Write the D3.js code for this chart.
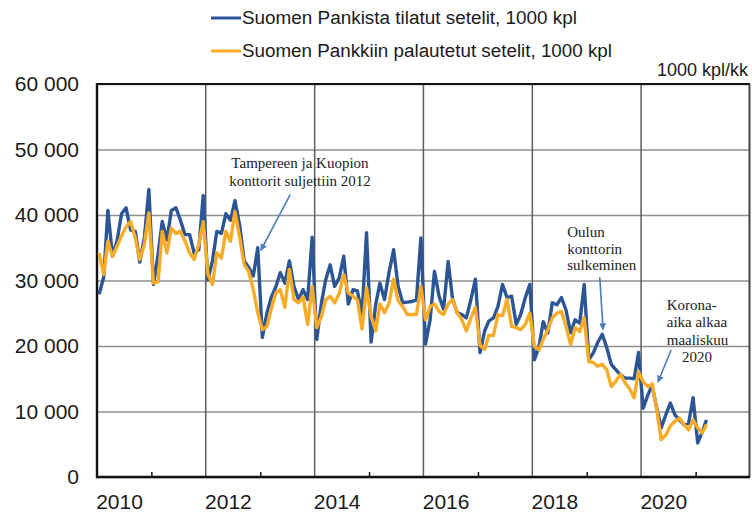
<!DOCTYPE html>
<html>
<head>
<meta charset="utf-8">
<script src="https://cdn.jsdelivr.net/npm/d3@7"></script>
<style>
body { margin: 0; background: #fff; }
svg { display: block; }
</style>
</head>
<body>
<div id="chart"></div>
<script>
// monthly values, 1000 kpl, from Jan 2010 to Mar 2021
const ordered = [
  27900, 30500, 40700, 33700, 36000, 40200, 41100, 37700, 37500, 32800, 36500, 43900,
  29400, 34000, 39000, 36200, 40700, 41100, 39200, 37000, 37000, 34200, 34700, 43000,
  30100, 33000, 37500, 37200, 40200, 39200, 42200, 38500, 33000, 32000, 30700, 35000,
  21300, 25100, 27400, 29000, 31200, 29600, 33000, 29100, 27100, 28600, 27100, 36600,
  21000, 26500, 30000, 32400, 29100, 30400, 33700, 26400, 28600, 28400, 24800, 37300,
  20600, 26400, 29600, 27100, 31200, 34700, 29100, 26600, 26700, 26800, 27000, 36500,
  20300, 24000, 31400, 27600, 25600, 32900, 27100, 25100, 24800, 24300, 27100, 30200,
  19000, 22300, 23800, 24300, 26000, 29400, 27400, 27600, 23300, 24800, 27400, 29400,
  17900, 19900, 23700, 22000, 26600, 26300, 27400, 25500, 22000, 24000, 23500, 29400,
  17900, 19000, 20500, 21800, 19800, 17200, 16400, 15600, 15100, 15100, 15000, 19000,
  10500, 12500, 14000, 10500, 7500, 9500, 11300, 9500, 8700, 8000, 8200, 12100,
  5200, 6900, 8700
]

const returned = [
  34200, 30900, 36000, 33700, 35200, 36800, 38200, 39000, 36500, 33200, 35500, 40300,
  29600, 29800, 37500, 34200, 38000, 37200, 37500, 36000, 34200, 33200, 35500, 39000,
  31000, 29400, 34200, 33400, 37500, 36000, 40500, 36700, 32400, 31400, 28600, 25100,
  22500, 23000, 25600, 28100, 28600, 25900, 31700, 27100, 26600, 27500, 23300, 29100,
  22800, 24500, 27000, 27600, 26600, 28000, 30900, 28100, 27600, 27000, 22600, 28900,
  24500, 22300, 26400, 25100, 26500, 30200, 26900, 26000, 24800, 24800, 24800, 29100,
  24000, 26000, 26400, 25300, 24800, 26400, 27100, 25100, 24000, 22300, 24300, 25900,
  20100, 19500, 21600, 21600, 24800, 24600, 27100, 23000, 22800, 22500, 23300, 25000,
  19900, 19400, 21000, 22500, 24300, 25000, 25300, 23000, 20200, 22800, 22200, 24300,
  17600, 17500, 16900, 17200, 16400, 13800, 14600, 15700, 14400, 13500, 12100, 16100,
  14500, 13800, 14200, 10300, 5700, 6400, 7800, 8500, 9000, 8000, 7200, 8700,
  7500, 6700, 8000
]

const seriesNames = ['Suomen Pankista tilatut setelit, 1000 kpl', 'Suomen Pankkiin palautetut setelit, 1000 kpl']
const unitLabel = '1000 kpl/kk'
const yTicks = [0, 10000, 20000, 30000, 40000, 50000, 60000]
const labelYears = [2010, 2012, 2014, 2016, 2018, 2020]
const gridYears = [2012, 2014, 2016, 2018, 2020]
const minorYears = [2011, 2013, 2015, 2017, 2019, 2021]

// notes: text anchored in (decimal year, value), arrow from tail to tip
const notes = [
  {lines: ['Tampereen ja Kuopion', 'konttorit suljettiin 2012'], at: [2013.73, 47200], step: 2750, anchor: 'middle',
   tail: [2013.55, 43100], tip: [2013.01, 34600]},
  {lines: ['Oulun', 'konttorin', 'sulkeminen'], at: [2018.64, 36640], step: 2520, anchor: 'start',
   tail: [2019.24, 30500], tip: [2019.30, 22500]},
  {lines: ['Korona-', 'aika alkaa', 'maaliskuu', '2020'], at: [2020.47, 25500], step: 2650, anchor: 'start',
   indent: [0, 0, 0, 0.28], tail: [2020.55, 19400], tip: [2020.31, 14500]}
]

const blue = '#2c5595', orange = '#f8ab26', arrowBlue = '#4a7ebb'

const dates = ordered.map((d, i) => new Date(2010, i, 15))
const yearDate = yr => {
  let y0 = Math.floor(yr)
  let a = new Date(y0, 0, 1), b = new Date(y0 + 1, 0, 1)
  return new Date(+a + (yr - y0) * (b - a))
}

const svg = d3.select('#chart').append('svg')
  .attr('width', 752)
  .attr('height', 513)
  .style('font-family', '"Liberation Sans", Arial, sans-serif')

const x = d3.scaleTime().domain([new Date(2010, 0, 1), new Date(2022, 0, 1)]).range([97, 750])
const y = d3.scaleLinear().domain([0, 60000]).range([477, 84])

const fmt = d3.formatLocale({decimal: ',', thousands: ' ', grouping: [3], currency: ['', '']}).format(',')

// horizontal grid + y labels
let yAxis = svg.append('g')
  .attr('transform', 'translate(97,0)')
  .call(d3.axisLeft(y).tickValues(yTicks).tickSize(-653).tickPadding(18).tickFormat(fmt))
yAxis.select('.domain').remove()
yAxis.selectAll('line').attr('stroke', '#8f8f8f').attr('stroke-width', 1.4)
yAxis.selectAll('text').attr('font-size', 21).attr('fill', '#1a1a1a')
  .attr('font-family', '"Liberation Sans", Arial, sans-serif')

// vertical grid at even years
svg.append('g')
  .selectAll('line')
  .data(gridYears)
  .join('line')
  .attr('x1', d => x(new Date(d, 0, 1)))
  .attr('x2', d => x(new Date(d, 0, 1)))
  .attr('y1', y(60000))
  .attr('y2', y(0))
  .attr('stroke', '#5e5e5e')
  .attr('stroke-width', 1.5)

// frame
svg.append('line').attr('x1', 96).attr('x2', 750).attr('y1', y(60000)).attr('y2', y(60000))
  .attr('stroke', '#111').attr('stroke-width', 2.2)
svg.append('line').attr('x1', 749.5).attr('x2', 749.5).attr('y1', y(60000)).attr('y2', y(0))
  .attr('stroke', '#444').attr('stroke-width', 2)

// minor ticks at odd years, pointing inward
let xAxis = svg.append('g')
  .attr('transform', `translate(0,${y(0)})`)
  .call(d3.axisBottom(x).tickValues(minorYears.map(d => new Date(d, 0, 1))).tickSize(-5).tickFormat(''))
xAxis.select('.domain').remove()
xAxis.selectAll('line').attr('stroke', '#111').attr('stroke-width', 1.5)

svg.append('line').attr('x1', 96).attr('x2', 750).attr('y1', y(0)).attr('y2', y(0))
  .attr('stroke', '#111').attr('stroke-width', 2.4)
svg.append('line').attr('x1', 97).attr('x2', 97).attr('y1', y(60000) - 1).attr('y2', y(0) + 1)
  .attr('stroke', '#111').attr('stroke-width', 2.4)

// year labels
svg.append('g')
  .selectAll('text')
  .data(labelYears)
  .join('text')
  .attr('x', d => x(new Date(d, 5, 1)))
  .attr('y', 509)
  .attr('text-anchor', 'middle')
  .attr('font-size', 21)
  .attr('fill', '#1a1a1a')
  .text(d => d)

// series lines, orange on top
const line = d3.line()
  .x((d, i) => x(dates[i]))
  .y(d => y(d))

svg.append('path')
  .datum(ordered)
  .attr('fill', 'none')
  .attr('stroke', blue)
  .attr('stroke-width', 3.4)
  .attr('stroke-linejoin', 'round')
  .attr('d', line)

svg.append('path')
  .datum(returned)
  .attr('fill', 'none')
  .attr('stroke', orange)
  .attr('stroke-width', 3.4)
  .attr('stroke-linejoin', 'round')
  .attr('d', line)

// legend
const legend = svg.append('g')
legend.selectAll('line')
  .data([blue, orange])
  .join('line')
  .attr('x1', 211).attr('x2', 241)
  .attr('y1', (d, i) => 18 + i * 33)
  .attr('y2', (d, i) => 18 + i * 33)
  .attr('stroke', d => d)
  .attr('stroke-width', 3)
legend.selectAll('text')
  .data(seriesNames)
  .join('text')
  .attr('x', 242)
  .attr('y', (d, i) => 24 + i * 33)
  .attr('font-size', 18)
  .attr('fill', '#1a1a1a')
  .attr('textLength', (d, i) => i == 0 ? 335 : 370)
  .attr('lengthAdjust', 'spacingAndGlyphs')
  .text(d => d)

svg.append('text')
  .attr('x', 748)
  .attr('y', 76)
  .attr('text-anchor', 'end')
  .attr('font-size', 18)
  .attr('fill', '#1a1a1a')
  .text(unitLabel)

// notes with arrows
svg.append('defs').append('marker')
  .attr('id', 'arrow')
  .attr('viewBox', '0 0 10 10')
  .attr('refX', 9).attr('refY', 5)
  .attr('markerWidth', 7).attr('markerHeight', 7)
  .attr('markerUnits', 'userSpaceOnUse')
  .attr('orient', 'auto')
  .append('path')
  .attr('d', 'M0,0L10,5L0,10z')
  .attr('fill', arrowBlue)

notes.forEach(n => {
  svg.append('line')
    .attr('x1', x(yearDate(n.tail[0]))).attr('y1', y(n.tail[1]))
    .attr('x2', x(yearDate(n.tip[0]))).attr('y2', y(n.tip[1]))
    .attr('stroke', arrowBlue)
    .attr('stroke-width', 1.6)
    .attr('marker-end', 'url(#arrow)')

  svg.append('g')
    .selectAll('text')
    .data(n.lines)
    .join('text')
    .attr('x', (d, i) => x(yearDate(n.at[0] + (n.indent ? n.indent[i] : 0))))
    .attr('y', (d, i) => y(n.at[1] - i * n.step))
    .attr('text-anchor', n.anchor)
    .attr('font-family', '"Liberation Serif", "Times New Roman", serif')
    .attr('font-size', 15)
    .attr('fill', '#222')
    .text(d => d)
})
</script>
</body>
</html>
